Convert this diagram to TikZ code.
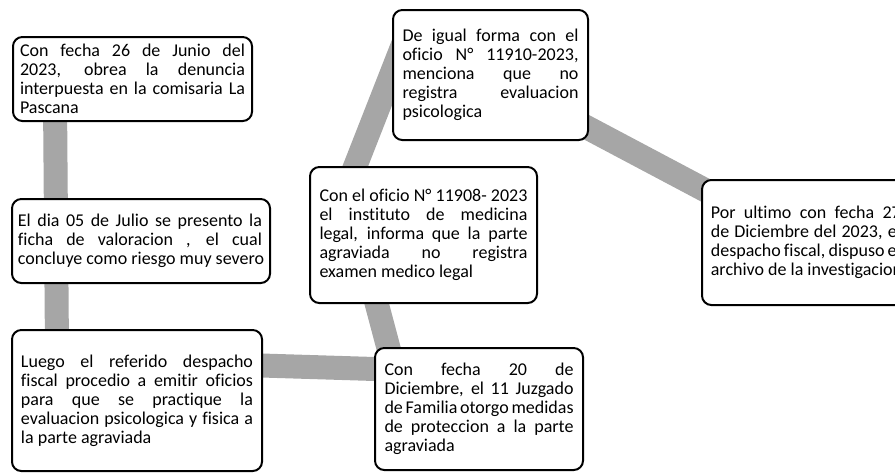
\documentclass[tikz,border=0pt]{standalone}
\usepackage{fontspec}
\setmainfont{Carlito}[Ligatures=NoCommon]
\usetikzlibrary{backgrounds}
\definecolor{conngray}{HTML}{A6A6A6}
\newcommand{\jl}[1]{\hbox to\hsize{#1}}
\newcommand{\lastl}[1]{\hbox{#1}}
\tikzset{
  card/.style={draw=black, line width=1.5pt, fill=white, rounded corners=7pt,
    inner sep=0pt, font=\fontsize{13.5}{14.2}\selectfont},
  conn/.style={draw=conngray, line width=18pt}
}
\begin{document}
\begin{tikzpicture}[x=0.75pt,y=-0.75pt]
\useasboundingbox (0,0) rectangle (895,475);
\clip (0,0) rectangle (895,475);
\node[card, minimum width=179.25pt, minimum height=63pt] (b1) at (132.5,79)
  {\parbox{168.75pt}{\jl{Con fecha 26 de Junio del}\jl{2023, obrea la denuncia}\jl{interpuesta en la comisaria La}\lastl{Pascana}}};
\node[card, minimum width=193.5pt, minimum height=63pt] (b2) at (141,241)
  {\parbox{183pt}{\jl{El dia 05 de Julio se presento la}\jl{ficha de valoracion , el cual}\lastl{concluye como riesgo muy severo}}};
\node[card, minimum width=187.5pt, minimum height=105.75pt] (b3) at (137,400.5)
  {\parbox{174pt}{\jl{Luego el referido despacho}\jl{fiscal procedio a emitir oficios}\jl{para que se practique la}\jl{evaluacion psicologica y fisica a}\lastl{la parte agraviada}}};
\node[card, minimum width=170.25pt, minimum height=102pt] (b4) at (423.5,235)
  {\parbox{156pt}{\jl{Con el oficio N° 11908- 2023}\jl{el instituto de medicina}\jl{legal, informa que la parte}\jl{agraviada no registra}\lastl{examen medico legal}}};
\node[card, minimum width=156pt, minimum height=91.5pt] (b5) at (479,409)
  {\parbox{141.75pt}{\jl{Con fecha 20 de}\jl{Diciembre, el 11 Juzgado}\jl{de Familia otorgo medidas}\jl{de proteccion a la parte}\lastl{agraviada}}};
\node[card, minimum width=146.25pt, minimum height=97.5pt] (b6) at (490.5,75)
  {\parbox{132pt}{\jl{De igual forma con el}\jl{oficio N° 11910-2023,}\jl{menciona que no}\jl{registra evaluacion}\lastl{psicologica}}};
\node[card, minimum width=156.75pt, minimum height=93.75pt] (b7) at (806.5,242.5)
  {\parbox{142.5pt}{\jl{Por ultimo con fecha 27}\jl{de Diciembre del 2023, el}\jl{despacho fiscal, dispuso el}\lastl{archivo de la investigacion}}};
\coordinate (k1a) at (55,100);
\coordinate (k1b) at (57,350);
\coordinate (k2a) at (200,363.6);
\coordinate (k2b) at (420,370.4);
\coordinate (k3a) at (370.4,280);
\coordinate (k3b) at (397,380);
\coordinate (k4a) at (342,200);
\coordinate (k4b) at (408.7,30);
\coordinate (k5a) at (560,113.2);
\coordinate (k5b) at (760,219.2);
\begin{scope}[on background layer]
\draw[conn] (k1a) -- (k1b);
\draw[conn] (k2a) -- (k2b);
\draw[conn] (k3a) -- (k3b);
\draw[conn] (k4a) -- (k4b);
\draw[conn] (k5a) -- (k5b);
\end{scope}
\end{tikzpicture}
\end{document}
